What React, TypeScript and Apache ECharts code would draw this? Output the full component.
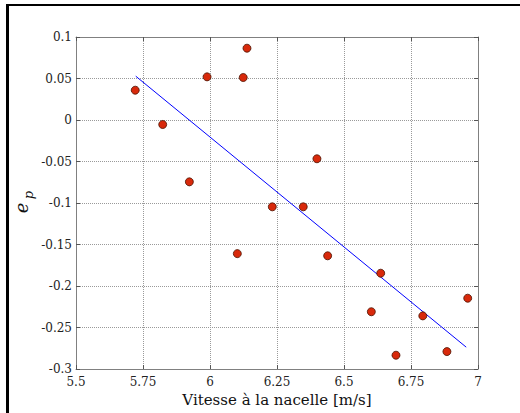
import React, { useEffect, useRef } from "react";
import * as echarts from "echarts";

const speedX = [5.721, 5.8235, 5.923, 5.989, 6.102, 6.124, 6.138, 6.2325, 6.348, 6.399, 6.439, 6.602, 6.637, 6.694, 6.794, 6.884, 6.9616];
const epY = [0.0359, -0.0054, -0.0745, 0.052, -0.161, 0.0512, 0.0865, -0.1046, -0.1046, -0.0467, -0.1636, -0.231, -0.1846, -0.2834, -0.236, -0.279, -0.2147];
const fitX = [5.723, 6.956];
const fitY = [0.0528, -0.2737];

const xTickLabels = ["5.5", "5.75", "6", "6.25", "6.5", "6.75", "7"];
const yTickLabels = ["-0.3", "-0.25", "-0.2", "-0.15", "-0.1", "-0.05", "0", "0.05", "0.1"];

const xName = "Vitesse à la nacelle [m/s]";

const SERIF = "DejaVu Serif";

export default function App() {
  const ref = useRef<HTMLDivElement>(null);
  useEffect(() => {
    if (!ref.current) return;
    const chart = echarts.init(ref.current, null, { renderer: "svg" });
    const xMin = parseFloat(xTickLabels[0]);
    const xMax = parseFloat(xTickLabels[xTickLabels.length - 1]);
    const yMin = parseFloat(yTickLabels[0]);
    const yMax = parseFloat(yTickLabels[yTickLabels.length - 1]);
    const fmt = (labels: string[]) => (v: number) => {
      const found = labels.find((l) => Math.abs(parseFloat(l) - v) < 1e-6);
      return found ?? "";
    };
    const boxAxisLine = { show: true, onZero: false, lineStyle: { color: "#808080", width: 1 } };
    chart.setOption({
      animation: false,
      backgroundColor: "#ffffff",
      grid: { left: 76, right: 42, top: 37, bottom: 44, containLabel: false },
      xAxis: [
        {
          type: "value",
          min: xMin,
          max: xMax,
          interval: 0.25,
          position: "bottom",
          name: xName,
          nameLocation: "middle",
          nameGap: 22,
          nameTextStyle: { fontFamily: SERIF, fontSize: 15, color: "#111" },
          axisLine: boxAxisLine,
          axisTick: { show: true, inside: true, length: 4, lineStyle: { color: "#555" } },
          axisLabel: { formatter: fmt(xTickLabels), fontFamily: SERIF, fontSize: 12, color: "#222", margin: 7 },
          splitLine: { show: true, lineStyle: { type: "dotted", color: "#9a9a9a", width: 1 } },
        },
        {
          type: "value",
          min: xMin,
          max: xMax,
          interval: 0.25,
          position: "top",
          axisLine: boxAxisLine,
          axisTick: { show: true, inside: true, length: 4, lineStyle: { color: "#555" } },
          axisLabel: { show: false },
          splitLine: { show: false },
        },
      ],
      yAxis: [
        {
          type: "value",
          min: yMin,
          max: yMax,
          interval: 0.05,
          position: "left",
          axisLine: boxAxisLine,
          axisTick: { show: true, inside: true, length: 4, lineStyle: { color: "#555" } },
          axisLabel: { formatter: fmt(yTickLabels), fontFamily: SERIF, fontSize: 12, color: "#222", margin: 4 },
          splitLine: { show: true, lineStyle: { type: "dotted", color: "#9a9a9a", width: 1 } },
        },
        {
          type: "value",
          min: yMin,
          max: yMax,
          interval: 0.05,
          position: "right",
          axisLine: boxAxisLine,
          axisTick: { show: true, inside: true, length: 4, lineStyle: { color: "#555" } },
          axisLabel: { show: false },
          splitLine: { show: false },
        },
      ],
      series: [
        {
          type: "line",
          data: fitX.map((x, i) => [x, fitY[i]]),
          showSymbol: false,
          symbol: "none",
          lineStyle: { color: "#0000ff", width: 1 },
          z: 2,
        },
        {
          type: "scatter",
          data: speedX.map((x, i) => [x, epY[i]]),
          symbol: "circle",
          symbolSize: 8,
          itemStyle: { color: "#d8290b", borderColor: "#4a1200", borderWidth: 0.8, opacity: 1 },
          z: 3,
        },
      ],
      graphic: [
        { type: "line", shape: { x1: 7, y1: 5, x2: 520, y2: 5 }, style: { stroke: "#000", lineWidth: 2 } },
        { type: "line", shape: { x1: 7.5, y1: 4, x2: 7.5, y2: 413 }, style: { stroke: "#000", lineWidth: 3 } },
        {
          type: "text",
          x: 21,
          y: 208,
          rotation: Math.PI / 2,
          style: { text: "e", fontFamily: SERIF, fontStyle: "italic", fontSize: 18, fill: "#111", align: "center", verticalAlign: "middle" },
        },
        {
          type: "text",
          x: 28,
          y: 195,
          rotation: Math.PI / 2,
          style: { text: "p", fontFamily: SERIF, fontStyle: "italic", fontSize: 13, fill: "#111", align: "center", verticalAlign: "middle" },
        },
      ],
    });
    return () => chart.dispose();
  }, []);
  return <div ref={ref} style={{ position: "fixed", left: 0, top: 0, width: 520, height: 413 }} />;
}
